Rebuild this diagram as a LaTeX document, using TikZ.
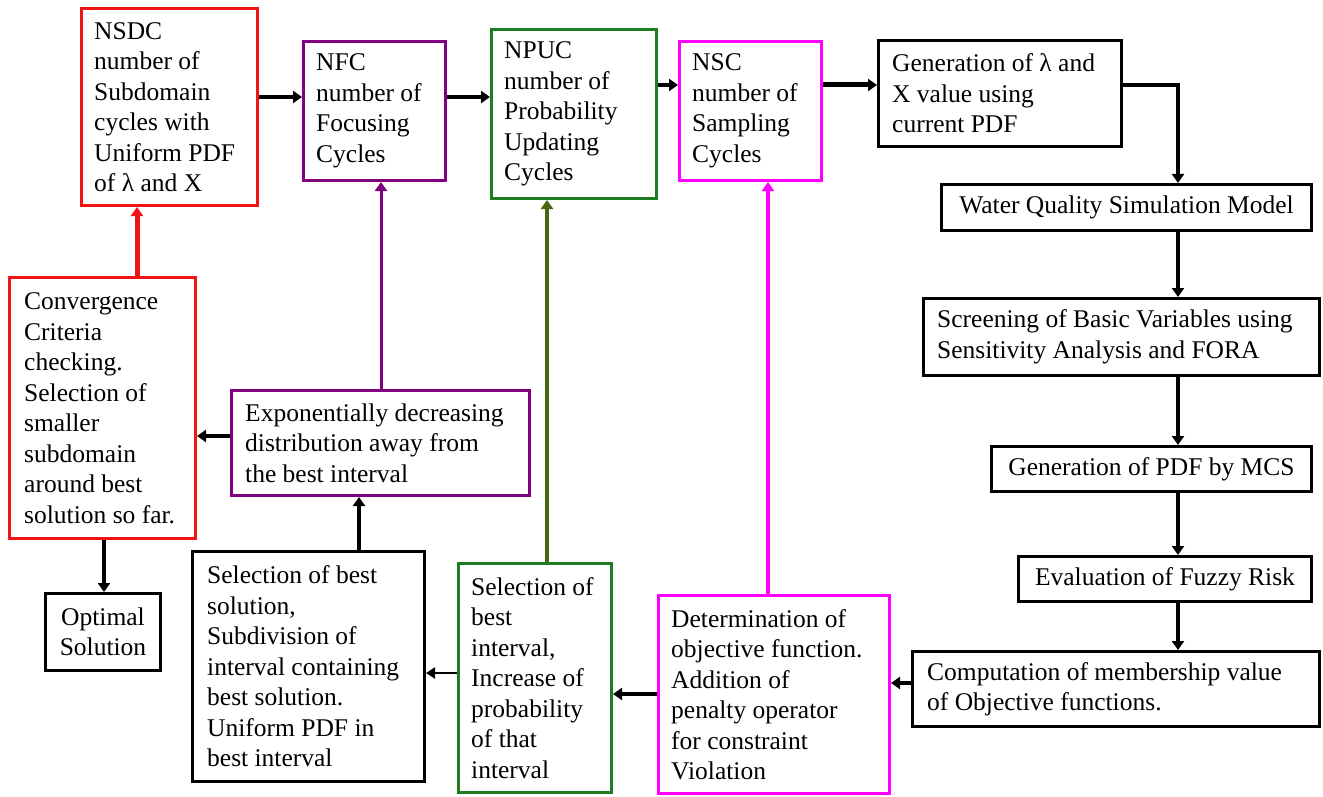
\documentclass[tikz,border=0pt]{standalone}
\usepackage{fontspec}
\setmainfont{Liberation Serif}
\usetikzlibrary{arrows.meta}
\definecolor{cred}{RGB}{240,20,20}
\definecolor{cpur}{RGB}{128,0,128}
\definecolor{cgrn}{RGB}{30,125,30}
\definecolor{colive}{RGB}{75,100,15}
\definecolor{cmag}{RGB}{255,0,255}
\newcommand\bodyfont{\fontsize{25.5}{30.5}\selectfont}
\tikzset{
  box/.style={draw, line width=3pt, rectangle, inner sep=0pt, font=\bodyfont, align=center},
  blackbox/.style={box, draw=black},
  redbox/.style={box, draw=cred},
  purbox/.style={box, draw=cpur},
  grnbox/.style={box, draw=cgrn},
  magbox/.style={box, draw=cmag},
  txt/.style={anchor=west, align=left, inner sep=0pt, font=\bodyfont},
  arr/.style={line width=4pt, -{Triangle[length=9pt,width=12pt]}},
  thinarr/.style={line width=2.5pt, -{Triangle[length=9pt,width=11pt]}},
}
\begin{document}
\begin{tikzpicture}[x=1pt,y=-1pt]
\useasboundingbox (0,0) rectangle (1323,797);
% boxes
\node[redbox, minimum width=176pt, minimum height=197pt] (nsdc) at (169.5,107) {};
\node[txt] (nsdc-t) at ([xshift=14pt]nsdc.west) {NSDC\\number of\\Subdomain\\cycles with\\Uniform PDF\\of λ and X};
\node[purbox, minimum width=142pt, minimum height=139pt] (nfc) at (374.5,111) {};
\node[txt] (nfc-t) at ([xshift=14pt]nfc.west) {NFC\\number of\\Focusing\\Cycles};
\node[grnbox, minimum width=165pt, minimum height=169pt] (npuc) at (574,114) {};
\node[txt] (npuc-t) at ([xshift=14pt]npuc.west) {NPUC\\number of\\Probability\\Updating\\Cycles};
\node[magbox, minimum width=142pt, minimum height=139pt] (nsc) at (750.5,111) {};
\node[txt] (nsc-t) at ([xshift=14pt]nsc.west) {NSC\\number of\\Sampling\\Cycles};
\node[blackbox, minimum width=243pt, minimum height=106pt] (gen) at (1000,93.5) {};
\node[txt] (gen-t) at ([xshift=15pt]gen.west) {Generation of λ and\\X value using\\current PDF};
\node[blackbox, minimum width=370pt, minimum height=46pt] (water) at (1126.5,207.5) {Water Quality Simulation Model};
\node[blackbox, minimum width=396pt, minimum height=77pt] (screen) at (1121.5,337) {};
\node[txt] (screen-t) at ([xshift=15pt]screen.west) {Screening of Basic Variables using\\Sensitivity Analysis and FORA};
\node[blackbox, minimum width=320pt, minimum height=45pt] (genpdf) at (1151.5,469) {Generation of PDF by MCS};
\node[blackbox, minimum width=293pt, minimum height=45pt] (fuzzy) at (1165,579) {Evaluation of Fuzzy Risk};
\node[blackbox, minimum width=407pt, minimum height=75pt] (comp) at (1116,689) {};
\node[txt] (comp-t) at ([xshift=16pt]comp.west) {Computation of membership value\\of Objective functions.};
\node[magbox, minimum width=231pt, minimum height=198pt] (det) at (774,694.5) {};
\node[txt] (det-t) at ([xshift=14pt]det.west) {Determination of\\objective function.\\Addition of\\penalty operator\\for constraint\\Violation};
\node[grnbox, minimum width=153pt, minimum height=229pt] (selint) at (535,678) {};
\node[txt] (selint-t) at ([xshift=14pt]selint.west) {Selection of\\best\\interval,\\Increase of\\probability\\of that\\interval};
\node[blackbox, minimum width=232pt, minimum height=230pt] (selsol) at (308.5,666.5) {};
\node[txt] (selsol-t) at ([xshift=16pt]selsol.west) {Selection of best\\solution,\\Subdivision of\\interval containing\\best solution.\\Uniform PDF in\\best interval};
\node[purbox, minimum width=298pt, minimum height=105pt] (exp) at (380.5,443) {};
\node[txt] (exp-t) at ([xshift=15pt]exp.west) {Exponentially decreasing\\distribution away from\\the best interval};
\node[redbox, minimum width=186pt, minimum height=261pt] (conv) at (102.5,408) {};
\node[txt] (conv-t) at ([xshift=16pt]conv.west) {Convergence\\Criteria\\checking.\\Selection of\\smaller\\subdomain\\around best\\solution so far.};
\node[blackbox, minimum width=115pt, minimum height=77pt] (opt) at (103,632) {Optimal\\Solution};
% connectors (black)
\draw[arr] (nsdc.east |- 0,97) -- (nfc.west |- 0,97);
\draw[arr] (nfc.east |- 0,97) -- (npuc.west |- 0,97);
\draw[arr] (npuc.east |- 0,85) -- (nsc.west |- 0,85);
\draw[arr, line width=5pt] (nsc.east |- 0,85) -- (gen.west |- 0,85);
\draw[arr] (gen.east |- 0,85) -| (water.north -| 1178,0);
\draw[arr] (water.south -| 1178,0) -- (screen.north -| 1178,0);
\draw[arr] (screen.south -| 1178,0) -- (genpdf.north -| 1178,0);
\draw[arr] (genpdf.south -| 1178,0) -- (fuzzy.north -| 1178,0);
\draw[arr] (fuzzy.south -| 1178,0) -- (comp.north -| 1178,0);
\draw[arr] (comp.west |- 0,683) -- (det.east |- 0,683);
\draw[arr] (det.west |- 0,694) -- (selint.east |- 0,694);
\draw[thinarr] (selint.west |- 0,673) -- (selsol.east |- 0,673);
\draw[arr] (selsol.north -| 359,0) -- (exp.south -| 359,0);
\draw[arr] (exp.west |- 0,436) -- (conv.east |- 0,436);
\draw[arr, line width=3.5pt] (conv.south -| 104,0) -- (opt.north -| 104,0);
% coloured feedback connectors
\draw[arr, draw=cred, fill=cred, line width=5pt] (conv.north -| 137,0) -- (nsdc.south -| 137,0);
\draw[arr, draw=cpur, fill=cpur, line width=3pt] (exp.north -| 381,0) -- (nfc.south -| 381,0);
\draw[arr, draw=colive, fill=colive] (selint.north -| 547,0) -- (npuc.south -| 547,0);
\draw[arr, draw=cmag, fill=cmag] (det.north -| 768,0) -- (nsc.south -| 768,0);
\end{tikzpicture}
\end{document}
